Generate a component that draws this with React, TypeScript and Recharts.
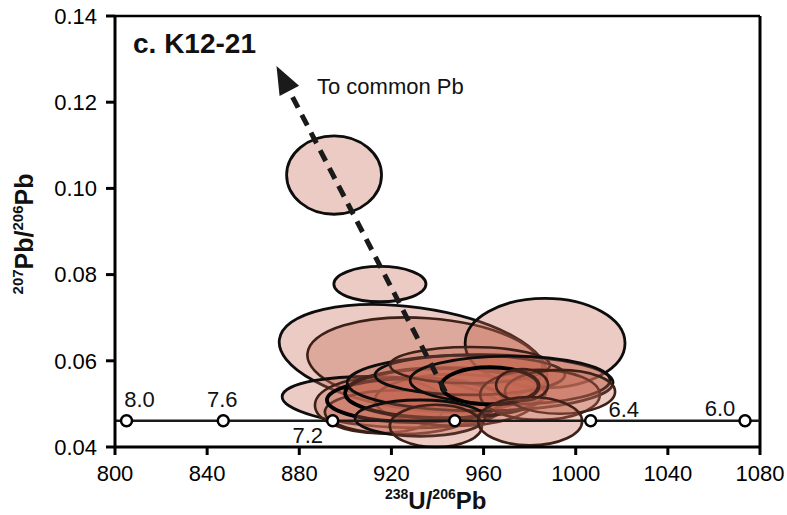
import {
  ScatterChart,
  Scatter,
  XAxis,
  YAxis,
  ReferenceArea,
  ReferenceLine,
  ReferenceDot,
} from "recharts";

const FONT = "'Liberation Sans', Arial, Helvetica, sans-serif";

const xTicks = [800, 840, 880, 920, 960, 1000, 1040, 1080];
const yTicks = [0.04, 0.06, 0.08, 0.1, 0.12, 0.14];

// concordia (Tera-Wasserburg) ages in Ma
const concordiaAges = ["8.0", "7.6", "7.2", "6.8", "6.4", "6.0"];
const concordiaU = [805, 847, 894.5, 947.5, 1006.5, 1073.5];
const concordiaPb = [0.0461, 0.0461, 0.0461, 0.0461, 0.0461, 0.0461];
const concordiaLineU = [800, 1080];
const concordiaLinePb = [0.0461, 0.0461];

// error ellipses: centre, semi-axes (data units), tilt
const ellU = [895.1, 915.0, 929.4, 934.6, 986.7, 920.2, 915.0, 923.7, 947.6, 930.2, 943.3, 958.5, 954.1, 954.1, 971.5, 984.5, 993.2, 962.8, 976.7, 932.4, 939.3, 980.2];
const ellPb = [0.1031, 0.0778, 0.0606, 0.0597, 0.0641, 0.0504, 0.0497, 0.0481, 0.0509, 0.0509, 0.0525, 0.0549, 0.0567, 0.059, 0.0555, 0.0521, 0.0528, 0.0542, 0.0544, 0.0467, 0.0449, 0.046];
const ellRu = [20.6, 20.0, 58.6, 51.2, 34.7, 47.7, 28.2, 32.6, 34.7, 38.2, 43.4, 57.7, 41.2, 34.7, 43.4, 26.0, 23.9, 21.1, 11.3, 28.2, 20.0, 22.6];
const ellRpb = [0.0091, 0.0041, 0.0118, 0.0102, 0.0104, 0.0058, 0.0065, 0.0051, 0.006, 0.0051, 0.0058, 0.0065, 0.0046, 0.0042, 0.0056, 0.0058, 0.0051, 0.0043, 0.0037, 0.0042, 0.0049, 0.0056];
const ellTilt = [0, 0, 8, 4, 0, 3, 0, 0, 0, 0, 0, 0, 0, 0, 0, 0, 0, 0, 0, 0, 0, 0];
// outline style: k = black, K = thick black, b = brown
const ellEdge = ["k", "k", "k", "b", "k", "k", "b", "b", "b", "K", "K", "k", "k", "b", "k", "b", "b", "K", "b", "k", "b", "b"];

// common Pb arrow
const arrowU = [943.4, 870.1];
const arrowPb = [0.0528, 0.1284];

const labelOffsets: Record<string, [number, number]> = {
  "8.0": [13, -14],
  "7.6": [-1, -14],
  "7.2": [-25, 22],
  "6.4": [33, -4],
  "6.0": [-25, -5],
};

const concordiaData = concordiaU.map((u, i) => ({ u, pb: concordiaPb[i] }));

const edgeStyle: Record<string, { stroke: string; strokeWidth: number }> = {
  k: { stroke: "#0d0d0d", strokeWidth: 2.8 },
  K: { stroke: "#000", strokeWidth: 3.8 },
  b: { stroke: "#3d2018", strokeWidth: 2.6 },
};

function Arrow(p: any) {
  const { x1, y1, x2, y2 } = p;
  const dx = x2 - x1;
  const dy = y2 - y1;
  const len = Math.sqrt(dx * dx + dy * dy);
  const ux = dx / len;
  const uy = dy / len;
  const head = 28;
  const half = 11;
  const bx = x2 - ux * head;
  const by = y2 - uy * head;
  const pts = `${x2},${y2} ${bx - uy * half},${by + ux * half} ${bx + uy * half},${by - ux * half}`;
  return (
    <g>
      <line x1={x1} y1={y1} x2={bx + ux * 4} y2={by + uy * 4} stroke="#1a1a1a" strokeWidth={5} strokeDasharray="12 8" />
      <polygon points={pts} fill="#1a1a1a" />
    </g>
  );
}

export default function App() {
  return (
    <div style={{ position: "absolute", left: 0, top: 0, width: 787, height: 515, background: "#fff" }}>
      <ScatterChart width={787} height={515} margin={{ top: 16, right: 27, bottom: 0, left: 0 }}>
        <XAxis
          type="number"
          dataKey="u"
          domain={[800, 1080]}
          ticks={xTicks}
          interval={0}
          allowDataOverflow
          height={68}
          tickSize={8}
          tickMargin={10}
          axisLine={{ stroke: "#000", strokeWidth: 3 }}
          tickLine={{ stroke: "#000", strokeWidth: 3 }}
          tick={{ fill: "#000", fontSize: 22, fontFamily: FONT }}
        />
        <YAxis
          type="number"
          dataKey="pb"
          domain={[0.04, 0.14]}
          ticks={yTicks}
          interval={0}
          allowDataOverflow
          width={115}
          tickSize={9}
          tickMargin={9}
          tickFormatter={(v: number) => v.toFixed(2)}
          axisLine={{ stroke: "#000", strokeWidth: 3 }}
          tickLine={{ stroke: "#000", strokeWidth: 3 }}
          tick={{ fill: "#000", fontSize: 22, fontFamily: FONT }}
        />
        <ReferenceLine y={0.14} stroke="#000" strokeWidth={2.5} ifOverflow="visible" />
        <ReferenceLine x={1080} stroke="#000" strokeWidth={3} ifOverflow="visible" />

        <ReferenceLine
          segment={[
            { x: arrowU[0], y: arrowPb[0] },
            { x: arrowU[1], y: arrowPb[1] },
          ]}
          ifOverflow="visible"
          shape={Arrow}
        />

        <ReferenceLine
          segment={[
            { x: concordiaLineU[0], y: concordiaLinePb[0] },
            { x: concordiaLineU[1], y: concordiaLinePb[1] },
          ]}
          stroke="#1a1a1a"
          strokeWidth={2.5}
          ifOverflow="visible"
        />
        {concordiaAges.map((age, i) => (
          <ReferenceDot
            key={"c" + i}
            x={concordiaU[i]}
            y={concordiaPb[i]}
            r={5.5}
            ifOverflow="visible"
            shape={(p: any) => {
              const off = labelOffsets[age];
              return (
                <g>
                  <circle cx={p.cx} cy={p.cy} r={5.5} fill="#fff" stroke="#000" strokeWidth={2.5} />
                  {off && (
                    <text x={p.cx + off[0]} y={p.cy + off[1]} textAnchor="middle" fontSize={22} fontFamily={FONT} fill="#111">
                      {age}
                    </text>
                  )}
                </g>
              );
            }}
          />
        ))}

        {ellU.map((u, i) => (
          <ReferenceArea
            key={"e" + i}
            x1={u - ellRu[i]}
            x2={u + ellRu[i]}
            y1={ellPb[i] - ellRpb[i]}
            y2={ellPb[i] + ellRpb[i]}
            ifOverflow="visible"
            shape={(p: any) => {
              const cx = p.x + p.width / 2;
              const cy = p.y + p.height / 2;
              const st = edgeStyle[ellEdge[i]];
              return (
                <ellipse
                  cx={cx}
                  cy={cy}
                  rx={Math.abs(p.width) / 2}
                  ry={Math.abs(p.height) / 2}
                  transform={`rotate(${ellTilt[i]} ${cx} ${cy})`}
                  fill="rgb(198,106,86)"
                  fillOpacity={0.35}
                  stroke={st.stroke}
                  strokeWidth={st.strokeWidth}
                />
              );
            }}
          />
        ))}

        <Scatter data={concordiaData} fill="none" shape={() => <g />} isAnimationActive={false} />
      </ScatterChart>

      <svg width={787} height={515} style={{ position: "absolute", left: 0, top: 0, pointerEvents: "none" }}>
        <text x={133} y={53} fontSize={28} fontWeight="bold" fontFamily={FONT} fill="#111">
          c. K12-21
        </text>
        <text x={317} y={94} fontSize={22} fontFamily={FONT} fill="#111">
          To common Pb
        </text>
        <text x={385} y={509} fontWeight="bold" fontFamily={FONT} fill="#111">
          <tspan fontSize={14} dy={-10}>238</tspan>
          <tspan fontSize={24} dy={10}>U/</tspan>
          <tspan fontSize={14} dy={-10}>206</tspan>
          <tspan fontSize={24} dy={10}>Pb</tspan>
        </text>
        <text
          x={33}
          y={234}
          transform="rotate(-90 33 234)"
          textAnchor="middle"
          fontWeight="bold"
          fontFamily={FONT}
          fill="#111"
        >
          <tspan fontSize={15} dy={-10}>207</tspan>
          <tspan fontSize={25} dy={10}>Pb/</tspan>
          <tspan fontSize={15} dy={-10}>206</tspan>
          <tspan fontSize={25} dy={10}>Pb</tspan>
        </text>
      </svg>
    </div>
  );
}
